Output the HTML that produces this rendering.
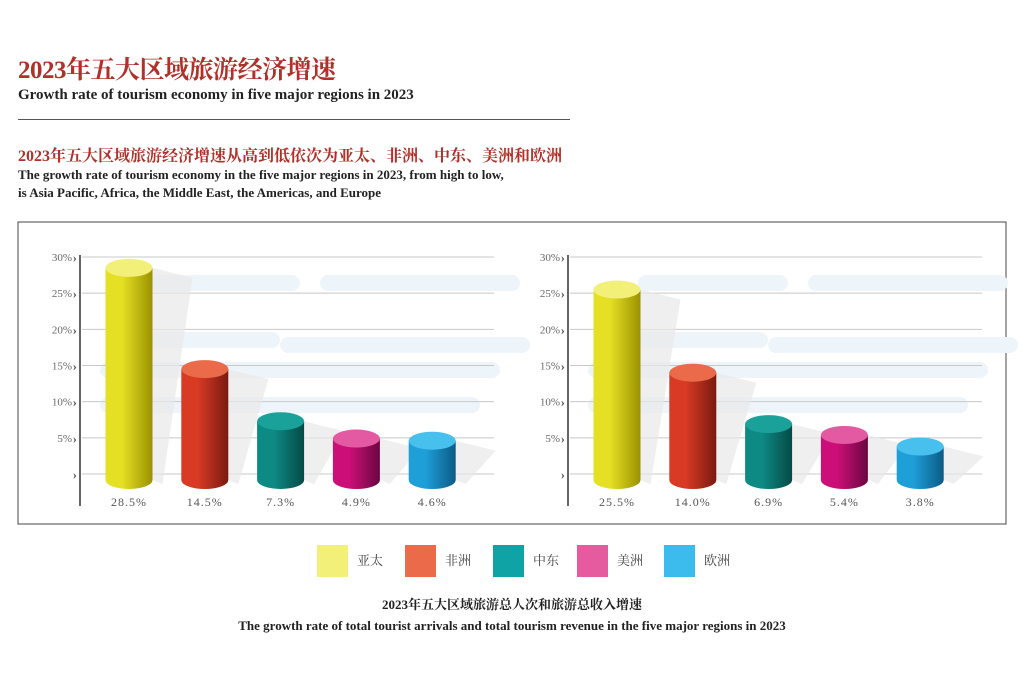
<!DOCTYPE html>
<html><head><meta charset="utf-8">
<style>
body{margin:0;width:1024px;height:678px;background:#fff;overflow:hidden;font-family:"Liberation Serif","Noto Serif CJK SC",serif;position:relative}
.t{position:absolute;white-space:nowrap}
</style></head><body>
<div class="t" style="left:18px;top:50px;font-size:25px;font-weight:bold;color:#b0302a;letter-spacing:-0.5px">2023年五大区域旅游经济增速</div>
<div class="t" style="left:18px;top:87px;font-size:15px;font-weight:bold;color:#222">Growth rate of tourism economy in five major regions in 2023</div>
<div style="position:absolute;left:18px;top:119px;width:552px;height:1px;background:#555"></div>
<div class="t" style="left:18px;top:143px;font-size:16px;font-weight:bold;color:#b0302a">2023年五大区域旅游经济增速从高到低依次为亚太、非洲、中东、美洲和欧洲</div>
<div class="t" style="left:18px;top:166px;font-size:13px;font-weight:bold;color:#222;line-height:18px">The growth rate of tourism economy in the five major regions in 2023, from high to low,<br>is Asia Pacific, Africa, the Middle East, the Americas, and Europe</div>
<svg id="chart" width="1024" height="678" style="position:absolute;left:0;top:0">
<rect x="18" y="222" width="988" height="302" fill="#fff" stroke="#666" stroke-width="1.2"/>
</svg>
<div class="t" style="left:0;width:1024px;text-align:center;top:594px;font-size:13px;font-weight:bold;color:#222">2023年五大区域旅游总人次和旅游总收入增速</div>
<div class="t" style="left:0;width:1100px;text-align:center;top:618px;font-size:13px;font-weight:bold;color:#222;width:1100px;left:-38px">The growth rate of total tourist arrivals and total tourism revenue in the five major regions in 2023</div>
<script>
const categories=["亚太","非洲","中东","美洲","欧洲"];
const arrivals=[28.5,14.5,7.3,4.9,4.6];
const revenue=[25.5,14.0,6.9,5.4,3.8];
const yTicks=[0,5,10,15,20,25,30];
const yTickLabels=["","5%","10%","15%","20%","25%","30%"];
const colors=[["#f3f07a","#e6e024","#9b9200"],["#ea6a4a","#d83a24","#7a1a10"],["#1aa29a","#0e8a84","#054a46"],["#e35aa2","#cc0f78","#6a0640"],["#48c0ee","#1e9fd8","#0c5a86"]];
const svg=document.getElementById('chart');
const NS='http://www.w3.org/2000/svg';
function el(t,a){const e=document.createElementNS(NS,t);for(const k in a)e.setAttribute(k,a[k]);svg.appendChild(e);return e;}
const defs=el('defs',{});
colors.forEach((c,i)=>{const g=document.createElementNS(NS,'linearGradient');g.id='g'+i;g.setAttribute('x1','0');g.setAttribute('x2','1');
[[0,c[1]],[0.35,c[1]],[1,c[2]]].forEach(s=>{const st=document.createElementNS(NS,'stop');st.setAttribute('offset',s[0]);st.setAttribute('stop-color',s[1]);g.appendChild(st);});defs.appendChild(g);});
function yScale(v){return 474-v*(474-257)/30;}
function drawChart(x0,values,tag){
  // background clouds
  [[x0+70,283,150],[x0+240,283,200],[x0+70,340,130],[x0+200,345,250],[x0+20,370,350],[x0+320,370,100],[x0+20,405,380]].forEach((b,i)=>{
    const r=el('rect',{x:b[0],y:b[1]-8,width:b[2],height:16,rx:8,fill:'#eef5fa'});
    });
  yTicks.forEach((t,i)=>{const y=yScale(t);
    const l=el('line',{x1:x0+2,x2:x0+414,y1:y,y2:y,stroke:'#c8c8c8','stroke-width':1});
    
    const tx=el('text',{x:x0-8,y:y+4,'text-anchor':'end','font-size':11,fill:'#666','font-family':'Liberation Serif'});tx.textContent=yTickLabels[i];
    
    const ch=el('text',{x:x0-3,y:y+5,'text-anchor':'end','font-size':13,'font-weight':'bold',fill:'#555'});ch.textContent='›';
    
  });
  const ax=el('line',{x1:x0,x2:x0,y1:255,y2:506,stroke:'#666','stroke-width':2});
  
  values.forEach((v,i)=>{
    const cx=x0+49+i*75.8, w=47, rx=w/2, ry=9, yt=yScale(v), yb=480;
    const sh=el('polygon',{points:`${cx+rx},${yt} ${cx+rx+40},${yt+10} ${cx+rx+10},${yb+4} ${cx+rx},${yb}`,fill:'#e8e8e8',opacity:0.7});
    
    const body=el('path',{d:`M${cx-rx},${yt} L${cx-rx},${yb} A${rx},${ry} 0 0 0 ${cx+rx},${yb} L${cx+rx},${yt} Z`,fill:`url(#g${i})`});
    
    const top=el('ellipse',{cx:cx,cy:yt,rx:rx,ry:ry,fill:colors[i][0]});
    
    const lb=el('text',{x:cx,y:506,'text-anchor':'middle','font-size':12,fill:'#555','letter-spacing':'1'});lb.textContent=v.toFixed(1)+'%';
    
  });
}
drawChart(80,arrivals,'arrivals');
drawChart(568,revenue,'revenue');
const legX=[317,405,493,577,664];
const legCol=["#f3f07a","#ea6a4a","#0fa3a6","#e65aa0","#3bbcec"];
categories.forEach((c,i)=>{
  const r=el('rect',{x:legX[i],y:545,width:31,height:32,fill:legCol[i]});
  
  const t=el('text',{x:legX[i]+40,y:565,'font-size':13,fill:'#444','font-family':'Liberation Serif, Noto Serif CJK SC, serif'});t.textContent=c;
  
});
</script>
</body></html>
